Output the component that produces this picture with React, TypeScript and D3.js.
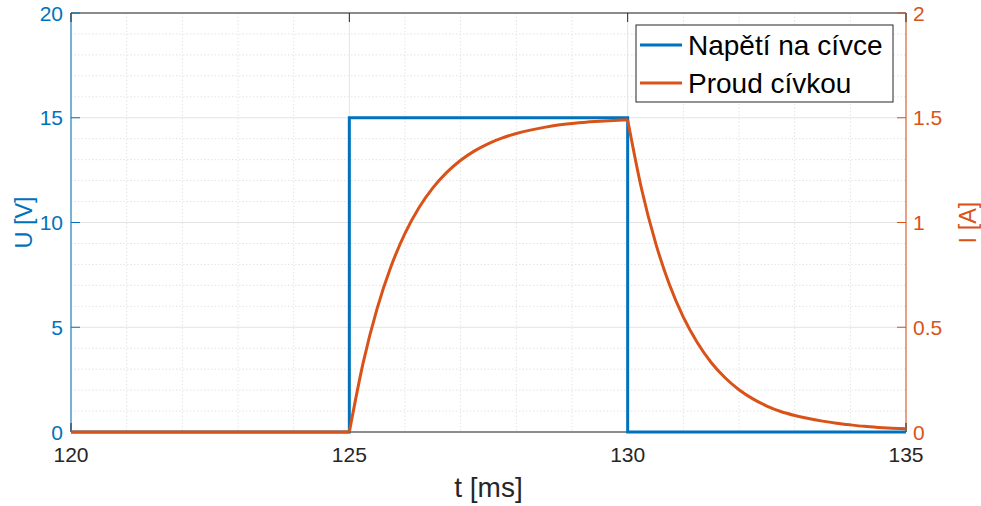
import React from "react";
import * as d3 from "d3";

// napětí na cívce (obdélníkový puls)
const uTime = [120, 125, 125, 130, 130, 135];
const uValues = [0, 0, 15, 15, 0, 0];

// proud cívkou, odečteno z grafu po 0.25 ms
const iTime = [
  120, 125, 125.25, 125.5, 125.75, 126, 126.25, 126.5, 126.75, 127, 127.25, 127.5, 127.75,
  128, 128.25, 128.5, 128.75, 129, 129.25, 129.5, 129.75, 130,
  130.25, 130.5, 130.75, 131, 131.25, 131.5, 131.75, 132, 132.25, 132.5, 132.75,
  133, 133.25, 133.5, 133.75, 134, 134.25, 134.5, 134.75, 135,
];
const iValues = [
  0, 0, 0.332, 0.59, 0.791, 0.948, 1.07, 1.165, 1.239, 1.297, 1.342, 1.377, 1.404,
  1.425, 1.441, 1.454, 1.465, 1.473, 1.479, 1.483, 1.487, 1.49,
  1.16, 0.904, 0.704, 0.548, 0.427, 0.332, 0.259, 0.202, 0.158, 0.124, 0.098,
  0.079, 0.064, 0.052, 0.042, 0.034, 0.027, 0.022, 0.018, 0.015,
];
// úseky proudu (zlom při 125 a 130 ms)
const iSegments = [
  [0, 1],
  [1, 21],
  [21, 41],
];

const xTicks = [120, 125, 130, 135];
const uTicks = [0, 5, 10, 15, 20];
const iTicks = [0, 0.5, 1, 1.5, 2];
const legendLabels = ["Napětí na cívce", "Proud cívkou"];

const W = 981;
const H = 506;
const m = { left: 71, right: 906, top: 13, bottom: 432 };
const BLUE = "#0072BD";
const ORANGE = "#D95319";
const AX = "#262626";
const FONT = "'Liberation Sans', Arial, Helvetica, sans-serif";

export default function App() {
  const x = d3.scaleLinear().domain([120, 135]).range([m.left, m.right]);
  const yU = d3.scaleLinear().domain([0, 20]).range([m.bottom, m.top]);
  const yI = d3.scaleLinear().domain([0, 2]).range([m.bottom, m.top]);

  const uLine = d3
    .line<number>()
    .x((_, i) => x(uTime[i]))
    .y((d) => yU(d));
  const iLine = d3
    .line<number>()
    .x((d) => x(iTime[d]))
    .y((d) => yI(iValues[d]))
    .curve(d3.curveMonotoneX);
  const iPath = iSegments.map(([a, b]) => iLine(d3.range(a, b + 1)) ?? "").join("");

  const minorX = d3.range(120, 135.01, 1).filter((v) => v % 5 !== 0);
  const minorY = d3.range(0, 20.01, 1).filter((v) => v % 5 !== 0);

  return (
    <svg width={W} height={H} style={{ position: "absolute", left: 0, top: 0, fontFamily: FONT }}>
      <rect x={0} y={0} width={W} height={H} fill="#fff" />
      {/* minor grid */}
      {minorX.map((v) => (
        <line key={"mx" + v} x1={x(v)} x2={x(v)} y1={m.top} y2={m.bottom} stroke="#e4e4e4" strokeDasharray="1.5,2" />
      ))}
      {minorY.map((v) => (
        <line key={"my" + v} x1={m.left} x2={m.right} y1={yU(v)} y2={yU(v)} stroke="#e4e4e4" strokeDasharray="1.5,2" />
      ))}
      {/* major grid */}
      {xTicks.map((v) => (
        <line key={"gx" + v} x1={x(v)} x2={x(v)} y1={m.top} y2={m.bottom} stroke="#e4e4e4" />
      ))}
      {uTicks.map((v) => (
        <line key={"gy" + v} x1={m.left} x2={m.right} y1={yU(v)} y2={yU(v)} stroke="#e4e4e4" />
      ))}

      {/* axes */}
      <line x1={m.left} x2={m.right} y1={m.bottom} y2={m.bottom} stroke={AX} />
      <line x1={m.left} x2={m.right} y1={m.top} y2={m.top} stroke={AX} />
      <line x1={m.left} x2={m.left} y1={m.top} y2={m.bottom} stroke={BLUE} />
      <line x1={m.right} x2={m.right} y1={m.top} y2={m.bottom} stroke={ORANGE} />

      {xTicks.map((v) => (
        <g key={"tx" + v}>
          <line x1={x(v)} x2={x(v)} y1={m.bottom} y2={m.bottom - 9} stroke={AX} />
          <line x1={x(v)} x2={x(v)} y1={m.top} y2={m.top + 9} stroke={AX} />
          <text x={x(v)} y={462} fontSize={21} textAnchor="middle" fill={AX}>
            {v}
          </text>
        </g>
      ))}
      {uTicks.map((v) => (
        <g key={"tu" + v}>
          <line x1={m.left} x2={m.left + 9} y1={yU(v)} y2={yU(v)} stroke={BLUE} />
          <text x={63} y={yU(v) + 7.5} fontSize={21} textAnchor="end" fill={BLUE}>
            {v}
          </text>
        </g>
      ))}
      {iTicks.map((v) => (
        <g key={"ti" + v}>
          <line x1={m.right} x2={m.right - 9} y1={yI(v)} y2={yI(v)} stroke={ORANGE} />
          <text x={913} y={yI(v) + 7.5} fontSize={21} textAnchor="start" fill={ORANGE}>
            {v}
          </text>
        </g>
      ))}

      {/* data */}
      <path d={uLine(uValues) ?? ""} fill="none" stroke={BLUE} strokeWidth={3} />
      <path d={iPath} fill="none" stroke={ORANGE} strokeWidth={3} strokeLinejoin="round" />

      {/* axis labels */}
      <text x={(m.left + m.right) / 2} y={497} fontSize={28} textAnchor="middle" fill={AX}>
        t [ms]
      </text>
      <text transform={`translate(32,${(m.top + m.bottom) / 2}) rotate(-90)`} fontSize={23.5} textAnchor="middle" fill={BLUE}>
        U [V]
      </text>
      <text transform={`translate(976,${(m.top + m.bottom) / 2}) rotate(-90)`} fontSize={23.5} textAnchor="middle" fill={ORANGE}>
        I [A]
      </text>

      {/* legend */}
      <rect x={636} y={25} width={257} height={77} fill="#fff" stroke={AX} strokeWidth={1} />
      {legendLabels.map((lab, i) => (
        <g key={lab} transform={`translate(0,${45 + i * 38})`}>
          <line x1={640} x2={682} y1={0} y2={0} stroke={i === 0 ? BLUE : ORANGE} strokeWidth={3} />
          <text x={688} y={10} fontSize={28} fill="#000">
            {lab}
          </text>
        </g>
      ))}
    </svg>
  );
}
